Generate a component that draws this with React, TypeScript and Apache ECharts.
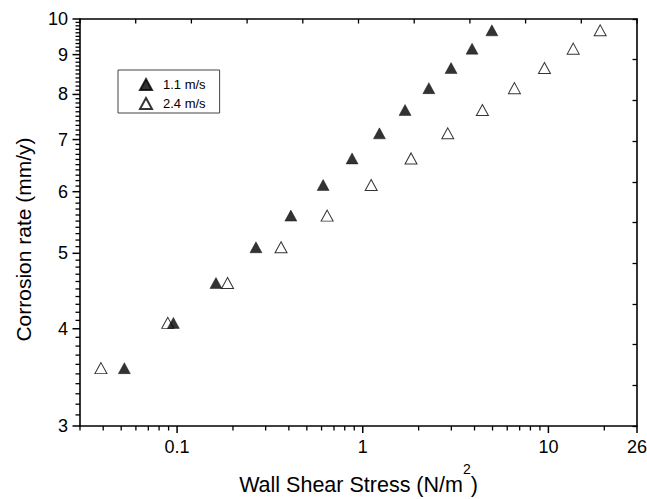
import React, { useEffect, useRef } from 'react';
import * as echarts from 'echarts';

// Corrosion rate (mm/y), shared by both velocity series (row by row)
const rate = [3.56, 4.07, 4.58, 5.09, 5.59, 6.12, 6.62, 7.13, 7.64, 8.15, 8.65, 9.16, 9.67];
// Wall shear stress (N/m2)
const stress11 = [0.052, 0.0955, 0.162, 0.266, 0.41, 0.612, 0.876, 1.23, 1.69, 2.27, 2.99, 3.88, 4.96];
const stress24 = [0.0389, 0.0891, 0.187, 0.363, 0.643, 1.11, 1.82, 2.87, 4.41, 6.56, 9.52, 13.6, 19.0];

const seriesNames = ['1.1 m/s', '2.4 m/s'];

const xRange = [0.03, 30];
const yRange = [3, 10];
const xMajorTicks = [0.1, 1, 10, 30];
const xMajorLabels = ['0.1', '1', '10', '26'];
const xMinorTicks = [0.03, 0.04, 0.05, 0.06, 0.07, 0.08, 0.09, 0.2, 0.3, 0.4, 0.5, 0.6, 0.7, 0.8, 0.9, 2, 3, 4, 5, 6, 7, 8, 9, 20];
const yMajorTicks = [3, 4, 5, 6, 7, 8, 9, 10];
const yMajorLabels = ['3', '4', '5', '6', '7', '8', '9', '10'];
const frameTicks = [0, 1, 2, 3, 4, 5, 6, 7, 8, 9, 10];

const FONT = '"Liberation Sans", Arial, sans-serif';

export default function App() {
  const ref = useRef<HTMLDivElement>(null);
  useEffect(() => {
    if (!ref.current) return;
    const chart = echarts.init(ref.current, undefined, { renderer: 'svg' });
    let disposed = false;
    const yMinorTicks: number[] = [];
    for (let i = 0; i < yMajorTicks.length - 1; i++) {
      for (let k = 1; k <= 9; k++) yMinorTicks.push(+(yMajorTicks[i] + k / 10).toFixed(2));
    }
    const find = (arr: number[], v: number) => arr.findIndex((t) => Math.abs(t - v) / t < 1e-6);
    const black = '#000';
    const axisLine = () => ({ show: true, lineStyle: { color: black, width: 1.6 } });

    // inward frame ticks on the top edge (custom series, proven to render)
    const topTicks = {
      type: 'custom',
      xAxisIndex: 1,
      yAxisIndex: 0,
      silent: true,
      clip: false,
      z: 6,
      data: frameTicks.map((v) => [v, yMajorTicks[3]]),
      renderItem: (params: any, api: any) => {
        const cs = params.coordSys;
        const c = api.coord([api.value(0), api.value(1)]);
        return {
          type: 'line',
          shape: { x1: c[0], y1: cs.y, x2: c[0], y2: cs.y + 4.5 },
          style: { stroke: black, lineWidth: 1.3 },
        };
      },
    };

    const option: any = {
      animation: false,
      backgroundColor: '#fff',
      textStyle: { fontFamily: FONT },
      grid: { left: 80, right: 10, top: 19, bottom: 73, outerBoundsMode: 'none', containLabel: false },
      legend: {
        orient: 'vertical',
        left: 118,
        top: 70,
        data: seriesNames,
        itemWidth: 12,
        itemHeight: 11,
        itemGap: 6,
        padding: [8, 14, 3, 21],
        borderColor: '#444',
        borderWidth: 1,
        backgroundColor: '#fff',
        textStyle: { fontSize: 13, color: black, fontFamily: FONT, padding: [0, 0, 0, 6] },
      },
      xAxis: [
        {
          type: 'log',
          min: xRange[0],
          max: xRange[1],
          position: 'bottom',
          axisLine: axisLine(),
          axisTick: { show: false },
          axisLabel: {
            show: true,
            customValues: xMajorTicks,
            margin: 12,
            fontSize: 18,
            color: black,
            fontFamily: FONT,
            showMaxLabel: true,
            formatter: (v: number) => {
              const i = find(xMajorTicks, v);
              return i >= 0 ? xMajorLabels[i] : '';
            },
          },
          splitLine: { show: false },
          name: 'Wall Shear Stress (N/m{sup|2})',
          nameLocation: 'middle',
          nameGap: 36,
          nameTextStyle: {
            fontSize: 21.5,
            color: black,
            fontFamily: FONT,
            rich: { sup: { fontSize: 14, color: black, fontFamily: FONT, padding: [0, 0, 32, 0] } },
          },
        },
        {
          type: 'value',
          min: frameTicks[0],
          max: frameTicks[frameTicks.length - 1],
          interval: 1,
          position: 'top',
          axisLine: axisLine(),
          axisTick: { show: false },
          axisLabel: { show: false },
          splitLine: { show: false },
        },
      ],
      yAxis: [
        {
          type: 'log',
          min: yRange[0],
          max: yRange[1],
          position: 'left',
          axisLine: axisLine(),
          axisTick: { show: false },
          axisLabel: {
            show: true,
            customValues: yMajorTicks,
            margin: 12,
            fontSize: 18,
            color: black,
            fontFamily: FONT,
            formatter: (v: number) => {
              const i = find(yMajorTicks, v);
              return i >= 0 ? yMajorLabels[i] : '';
            },
          },
          splitLine: { show: false },
          name: 'Corrosion rate (mm/y){sp|}',
          nameLocation: 'middle',
          nameGap: 46,
          nameTextStyle: {
            fontSize: 21,
            color: black,
            fontFamily: FONT,
            rich: { sp: { width: 34, fontSize: 21 } },
          },
        },
        {
          type: 'value',
          min: frameTicks[0],
          max: frameTicks[frameTicks.length - 1],
          interval: 1,
          position: 'right',
          axisLine: axisLine(),
          axisTick: { show: true, inside: true, length: 4.5, lineStyle: { color: black, width: 1.3 } },
          axisLabel: { show: false },
          splitLine: { show: false },
        },
      ],
      series: [
        topTicks,
        {
          name: seriesNames[0],
          type: 'scatter',
          xAxisIndex: 0,
          yAxisIndex: 0,
          symbol: 'triangle',
          symbolSize: [12, 11],
          itemStyle: { color: black, borderColor: black, borderWidth: 0.5 },
          data: stress11.map((x, i) => [x, rate[i]]),
          z: 5,
        },
        {
          name: seriesNames[1],
          type: 'scatter',
          xAxisIndex: 0,
          yAxisIndex: 0,
          symbol: 'triangle',
          symbolSize: [12, 11],
          itemStyle: { color: '#fff', borderColor: black, borderWidth: 1 },
          data: stress24.map((x, i) => [x, rate[i]]),
          z: 4,
        },
      ],
    };
    chart.setOption(option);

    // Outward ticks on the bottom and left edges, positioned by the axes' own scales
    const toPx = (x: number, y: number): number[] => {
      const p: any = chart.convertToPixel({ xAxisIndex: 0, yAxisIndex: 0 }, [x, y]);
      return Array.isArray(p) ? [Number(p[0]), Number(p[1])] : [NaN, NaN];
    };
    const line = (x1: number, y1: number, x2: number, y2: number, w: number) => ({
      type: 'line',
      silent: true,
      z: 20,
      shape: { x1, y1, x2, y2 },
      style: { stroke: black, lineWidth: w, fill: null },
    });
    const drawTicks = (attempt: number) => {
      if (disposed) return;
      const ticks: any[] = [];
      let ok = true;
      const push = (x1: number, y1: number, x2: number, y2: number, w: number) => {
        if (![x1, y1, x2, y2].every(Number.isFinite)) ok = false;
        ticks.push(line(x1, y1, x2, y2, w));
      };
      xMajorTicks.forEach((v) => { const p = toPx(v, yRange[0]); push(p[0], p[1], p[0], p[1] + 7, 1.5); });
      xMinorTicks.forEach((v) => { const p = toPx(v, yRange[0]); push(p[0], p[1], p[0], p[1] + 4.5, 1.3); });
      yMajorTicks.forEach((v) => { const p = toPx(xRange[0], v); push(p[0], p[1], p[0] - 7.5, p[1], 1.5); });
      yMinorTicks.forEach((v) => { const p = toPx(xRange[0], v); push(p[0], p[1], p[0] - 4.5, p[1], 1.3); });
      if (!ok && attempt < 10) {
        setTimeout(() => drawTicks(attempt + 1), 30);
        return;
      }
      chart.setOption({ graphic: ticks });
    };
    drawTicks(0);

    return () => {
      disposed = true;
      chart.dispose();
    };
  }, []);
  return (
    <div
      ref={ref}
      style={{ position: 'fixed', left: 0, top: 0, width: 647, height: 499 }}
    />
  );
}
